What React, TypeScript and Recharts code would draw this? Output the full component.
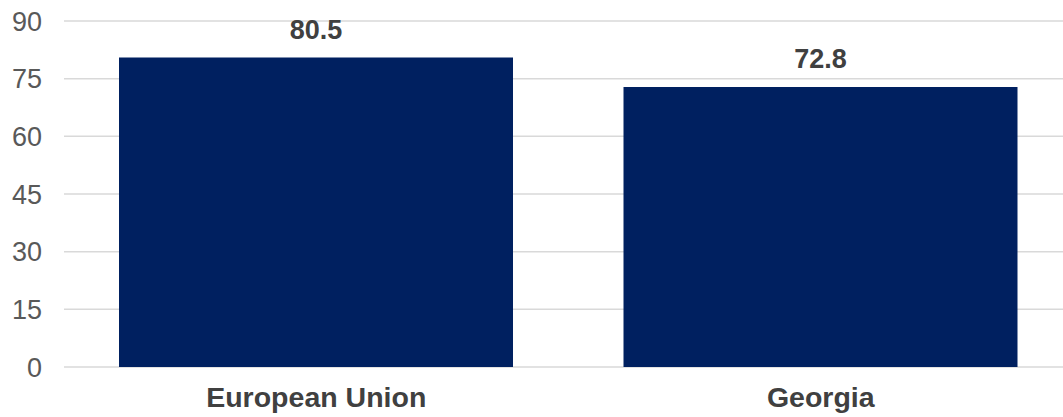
import React from "react";
import { BarChart, Bar, XAxis, YAxis, CartesianGrid, LabelList } from "recharts";

const categories = ["European Union", "Georgia"];
const values = [80.5, 72.8];
const yTicks = [0, 15, 30, 45, 60, 75, 90];

const data = categories.map((name, i) => ({ name, value: values[i] }));

const FONT = "'Liberation Sans', Arial, sans-serif";

export default function App() {
  return (
    <div
      style={{
        position: "absolute",
        top: 0,
        left: 0,
        width: 1063,
        height: 417,
        overflow: "hidden",
        background: "#fff",
      }}
    >
      <BarChart
        width={1073}
        height={417}
        data={data}
        margin={{ top: 21, right: 0, bottom: 0, left: 0 }}
      >
        <CartesianGrid vertical={false} stroke="#d9d9d9" strokeWidth={1.5} />
        <XAxis
          dataKey="name"
          axisLine={false}
          tickLine={false}
          height={50}
          tickSize={6}
          tickMargin={14}
          tick={{ fill: "#404040", fontSize: 28.5, fontWeight: 700, fontFamily: FONT }}
        />
        <YAxis
          domain={[0, 90]}
          ticks={yTicks}
          axisLine={false}
          tickLine={false}
          width={64}
          tickSize={6}
          tickMargin={16}
          tick={{ fill: "#595959", fontSize: 27, fontFamily: FONT }}
        />
        <Bar dataKey="value" fill="#002060" barSize={394} isAnimationActive={false}>
          <LabelList
            dataKey="value"
            position="top"
            offset={19}
            style={{ fill: "#404040", fontSize: 27, fontWeight: 700, fontFamily: FONT }}
          />
        </Bar>
      </BarChart>
    </div>
  );
}
